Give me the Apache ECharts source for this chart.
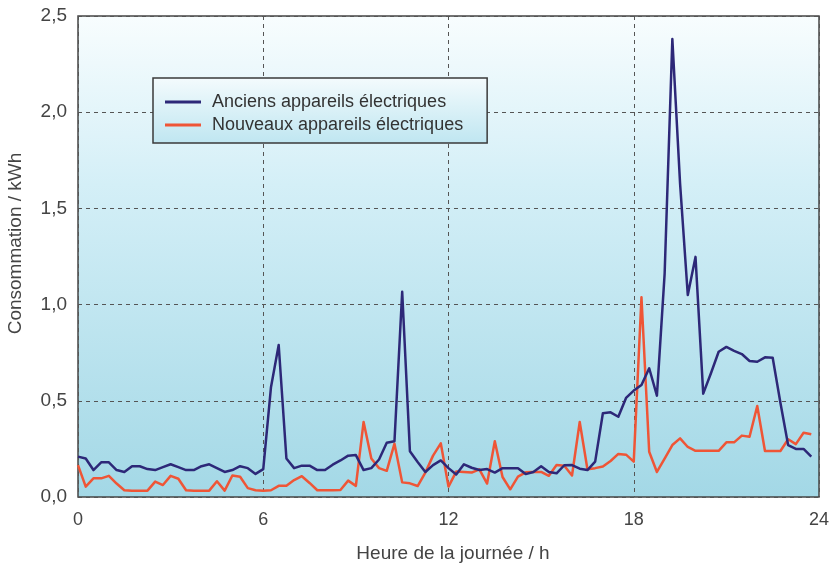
<!DOCTYPE html>
<html>
<head>
<meta charset="utf-8">
<script src="https://cdn.jsdelivr.net/npm/echarts@6/dist/echarts.min.js"></script>
<style>
html,body{margin:0;padding:0;background:#fff;}
#c{width:829px;height:563px;}
</style>
</head>
<body>
<div id="c"></div>
<script>
// Quarter-hour readings, 0:00 .. 23:45
var seriesNames = ['Anciens appareils électriques', 'Nouveaux appareils électriques'];
var xTicks = [0, 6, 12, 18, 24];
var yTicks = [0, 0.5, 1.0, 1.5, 2.0, 2.5];
var oldDevices = [
  0.21, 0.20, 0.14, 0.18, 0.18, 0.14, 0.13, 0.16, 0.16, 0.145, 0.14, 0.155,
  0.17, 0.155, 0.14, 0.14, 0.16, 0.17, 0.15, 0.13, 0.14, 0.16, 0.15, 0.12,
  0.145, 0.57, 0.79, 0.20, 0.15, 0.163, 0.163, 0.14, 0.14, 0.168, 0.19, 0.215,
  0.218, 0.14, 0.15, 0.195, 0.282, 0.29, 1.067, 0.238, 0.182, 0.13, 0.166, 0.19,
  0.15, 0.117, 0.17, 0.152, 0.14, 0.145, 0.127, 0.15, 0.15, 0.15, 0.119, 0.13,
  0.16, 0.13, 0.123, 0.165, 0.166, 0.147, 0.14, 0.184, 0.435, 0.44, 0.417, 0.515,
  0.553, 0.582, 0.669, 0.527, 1.16, 2.38, 1.63, 1.05, 1.248, 0.537, 0.643, 0.755,
  0.78, 0.76, 0.743, 0.707, 0.703, 0.726, 0.724, 0.49, 0.27, 0.25, 0.25, 0.21
];
var newDevices = [
  0.166, 0.054, 0.097, 0.097, 0.11, 0.07, 0.035, 0.033, 0.033, 0.033, 0.08, 0.062,
  0.11, 0.095, 0.035, 0.033, 0.033, 0.033, 0.082, 0.033, 0.112, 0.105, 0.046, 0.035,
  0.033, 0.035, 0.058, 0.059, 0.088, 0.108, 0.073, 0.035, 0.035, 0.035, 0.036, 0.085,
  0.058, 0.39, 0.20, 0.15, 0.136, 0.277, 0.076, 0.071, 0.057, 0.127, 0.215, 0.279,
  0.054, 0.132, 0.13, 0.127, 0.144, 0.07, 0.29, 0.104, 0.04, 0.106, 0.128, 0.13,
  0.13, 0.11, 0.166, 0.162, 0.112, 0.39, 0.144, 0.15, 0.158, 0.187, 0.224, 0.22,
  0.184, 1.038, 0.235, 0.13, 0.20, 0.27, 0.305, 0.26, 0.24, 0.24, 0.24, 0.24,
  0.284, 0.284, 0.319, 0.313, 0.473, 0.239, 0.239, 0.239, 0.30, 0.275, 0.334, 0.326
];
var hours = oldDevices.map(function (v, i) { return i / 4; });

function pairs(vals) { return vals.map(function (v, i) { return [hours[i], v]; }); }
function fmt(v) { return v.toFixed(1).replace('.', ','); }

var font = 'Liberation Sans, Arial, sans-serif';
var chart = echarts.init(document.getElementById('c'), null, {renderer: 'canvas'});
chart.setOption({
  animation: false,
  backgroundColor: '#ffffff',
  textStyle: {fontFamily: font},
  grid: {
    left: 78, right: 10, top: 16, bottom: 66,
    outerBoundsMode: 'none',
    containLabel: false,
    show: true,
    borderColor: '#454545', borderWidth: 1.5,
    backgroundColor: new echarts.graphic.LinearGradient(0, 0, 0, 1, [
      {offset: 0, color: '#f8fdfe'},
      {offset: 0.35, color: '#d4eff7'},
      {offset: 1, color: '#a3d8e6'}
    ])
  },
  legend: {
    left: 153, top: 78, orient: 'vertical',
    data: seriesNames,
    padding: [15, 24, 9, 12],
    itemGap: 5,
    itemWidth: 36, itemHeight: 3,
    icon: 'rect',
    borderColor: '#3a3a3a', borderWidth: 1.5,
    backgroundColor: new echarts.graphic.LinearGradient(0, 0, 0, 1, [
      {offset: 0, color: '#f4fbfd'},
      {offset: 1, color: '#bfe6f1'}
    ]),
    textStyle: {fontSize: 18, color: '#333', fontFamily: font, padding: [0, 0, 0, 6]}
  },
  xAxis: {
    type: 'value', min: 0, max: 24, interval: 6,
    name: 'Heure de la journée / h', nameLocation: 'middle', nameGap: 47,
    nameTextStyle: {fontSize: 19, color: '#444', fontFamily: font, padding: [0, 0, 0, 9]},
    axisLine: {show: false},
    axisTick: {show: false},
    axisLabel: {fontSize: 18, color: '#444', margin: 14, fontFamily: font,
      formatter: function (v) { return xTicks.indexOf(v) >= 0 ? String(v) : ''; }},
    splitLine: {show: true, lineStyle: {color: '#555', type: [4, 4], width: 1}}
  },
  yAxis: {
    type: 'value', min: 0, max: 2.5, interval: 0.5,
    name: 'Consommation / kWh', nameLocation: 'middle', nameGap: 53, nameRotate: 90,
    nameTextStyle: {fontSize: 19, color: '#444', fontFamily: font, padding: [0, 0, 0, 26]},
    axisLine: {show: false},
    axisTick: {show: false},
    axisLabel: {fontSize: 19, color: '#444', margin: 11, fontFamily: font,
      formatter: function (v) { return yTicks.indexOf(v) >= 0 ? fmt(v) : ''; }},
    splitLine: {show: true, lineStyle: {color: '#555', type: [4, 4], width: 1}}
  },
  series: [
    {
      name: seriesNames[0], type: 'line', data: pairs(oldDevices),
      symbol: 'none', color: '#2d2878',
      lineStyle: {color: '#2d2878', width: 2.5, join: 'round'}, z: 3
    },
    {
      name: seriesNames[1], type: 'line', data: pairs(newDevices),
      symbol: 'none', color: '#ef5536',
      lineStyle: {color: '#ef5536', width: 2.5, join: 'round'}, z: 2
    }
  ]
});
</script>
</body>
</html>
